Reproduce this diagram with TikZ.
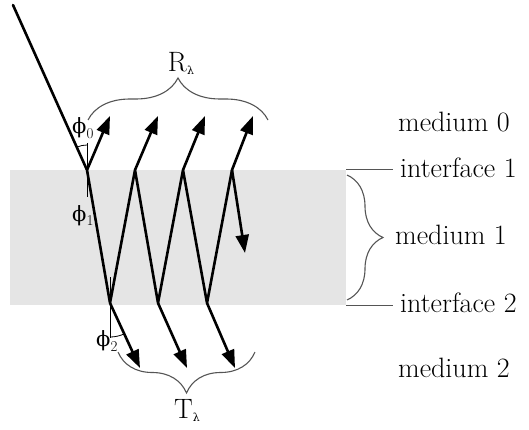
\documentclass[tikz,border=0pt]{standalone}
\usepackage{fontspec}
\newfontfamily\grk{DejaVu Serif}
\usetikzlibrary{arrows.meta,decorations.pathreplacing,calc}
\definecolor{band}{RGB}{229,229,229}
\definecolor{bracecol}{RGB}{85,85,85}
\begin{document}
\begin{tikzpicture}[x=1pt,y=-1pt,
  ray/.style={line width=2.6pt,line join=round,line cap=round},
  arr/.style={line width=2.6pt,-{Triangle[length=18pt,width=13pt]}},
  normal/.style={line width=0.8pt},
  bracedeco/.style={draw=bracecol,line width=1.1pt,decorate,decoration={brace,amplitude=#1}},
  medlbl/.style={font=\fontsize{28}{30}\selectfont,anchor=base west,inner sep=0pt},
  philbl/.style={font=\fontsize{21}{22}\selectfont,anchor=north west,inner sep=0pt},
  biglbl/.style={font=\fontsize{28}{30}\selectfont,anchor=base,inner sep=0pt}]
\useasboundingbox (0,0) rectangle (529,430);
% medium 1 band
\fill[band] (10,170) rectangle (346,305);
% interface lines
\coordinate (i1a) at (346,170); \coordinate (i1b) at (393,170);
\coordinate (i2a) at (346,305); \coordinate (i2b) at (393,305);
\draw[bracecol,line width=1pt] (i1a) -- (i1b);
\draw[bracecol,line width=1pt] (i2a) -- (i2b);
% labels on the right
\node[medlbl] (m0) at (398,132) {medium 0};
\node[medlbl] (if1) at (400,178) {interface 1};
\node[medlbl] (m1) at (395,244) {medium 1};
\node[medlbl] (if2) at (400,312) {interface 2};
\node[medlbl] (m2) at (398,377) {medium 2};
% brace for medium 1
\coordinate (mb1) at (347,175); \coordinate (mb2) at (347,300);
\draw[bracedeco=36] (mb1) -- (mb2);
% hit points
\coordinate (src) at (13,5);
\coordinate (t1) at (87,170);
\coordinate (t2) at (135,170);
\coordinate (t3) at (183,170);
\coordinate (t4) at (232,170);
\coordinate (b1) at (110,303);
\coordinate (b2) at (158,303);
\coordinate (b3) at (207,303);
% arrow ends
\coordinate (r1) at (110,116);
\coordinate (r2) at (158,116);
\coordinate (r3) at (205,116);
\coordinate (r4) at (253,116);
\coordinate (s1) at (140,368);
\coordinate (s2) at (187,368);
\coordinate (s3) at (235,368);
\coordinate (last) at (245,253);
% normals
\coordinate (n0) at (87,143); \coordinate (n1) at (87,197);
\coordinate (n2) at (110,277); \coordinate (n3) at (110,338);
\draw[normal] (n0) -- (n1);
\draw[normal] (n2) -- (n3);
% angle arcs
\draw[normal] ($(t1)+(-114:25)$) arc[start angle=-114,end angle=-90,radius=25];
\draw[normal] ($(b1)+(90:34)$) arc[start angle=90,end angle=65,radius=34];
% rays
\draw[ray] (src) -- (t1) -- (b1) -- (t2) -- (b2) -- (t3) -- (b3) -- (t4);
\draw[arr] (t4) -- (last);
\draw[arr] (t1) -- (r1);
\draw[arr] (t2) -- (r2);
\draw[arr] (t3) -- (r3);
\draw[arr] (t4) -- (r4);
\draw[arr] (b1) -- (s1);
\draw[arr] (b2) -- (s2);
\draw[arr] (b3) -- (s3);
% braces R and T
\coordinate (rb1) at (88,120); \coordinate (rb2) at (268,120);
\draw[bracedeco=42] (rb1) -- (rb2);
\coordinate (tb1) at (255,352); \coordinate (tb2) at (118,352);
\draw[bracedeco=41] (tb1) -- (tb2);
\node[biglbl] (R) at (181,72) {R\raisebox{-3pt}{\grk\fontsize{11}{12}\selectfont λ}};
\node[biglbl] (T) at (187,418) {T\raisebox{-3pt}{\grk\fontsize{11}{12}\selectfont λ}};
% phi labels
\node[philbl] (p0) at (72,117) {{\grk ϕ}\raisebox{-5pt}{\fontsize{15}{16}\selectfont 0}};
\node[philbl] (p1) at (72,205) {{\grk ϕ}\raisebox{-4pt}{\fontsize{15}{16}\selectfont 1}};
\node[philbl] (p2) at (96,330) {{\grk ϕ}\raisebox{-5pt}{\fontsize{15}{16}\selectfont 2}};
\end{tikzpicture}
\end{document}
